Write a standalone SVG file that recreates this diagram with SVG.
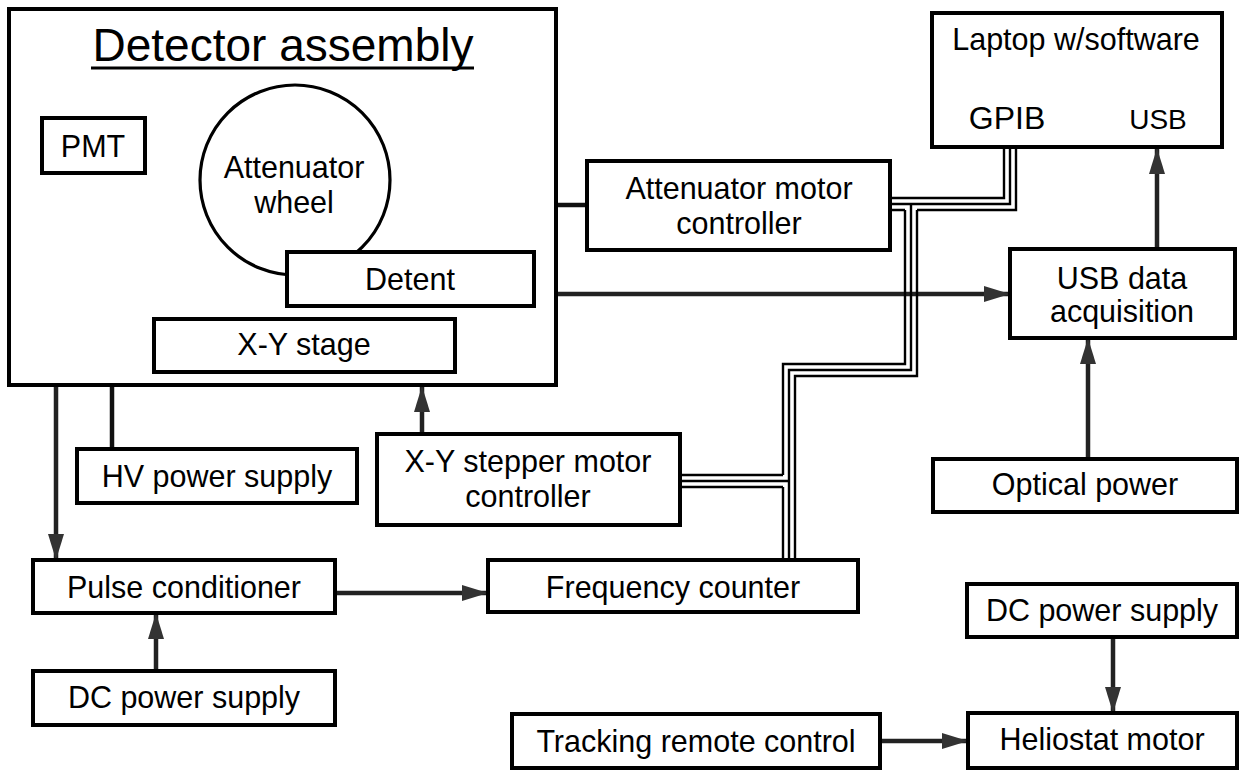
<svg xmlns="http://www.w3.org/2000/svg" width="1243" height="771" viewBox="0 0 1243 771">
<style>
.box{fill:#fff;stroke:#000;stroke-width:4}
.t{font-family:"Liberation Sans",Arial,sans-serif;font-size:30.5px;fill:#000;text-anchor:middle}
.ln{fill:none;stroke:#111;stroke-width:4.5}
.ar{fill:none;stroke:#222;stroke-width:4.5;marker-end:url(#ah)}
.bus{fill:none;stroke:#000;stroke-width:2.4;stroke-linejoin:miter}
</style>
<defs>
<marker id="ah" markerUnits="userSpaceOnUse" markerWidth="27" markerHeight="17" refX="26" refY="8.5" orient="auto">
<path d="M0,0.5 L26,8.5 L0,16.5 Z" fill="#333"/>
</marker>
</defs>
<rect width="1243" height="771" fill="#fff"/>
<g id="connectors">
<line class="ln" x1="557" y1="205" x2="587" y2="205"/>
<line class="ln" x1="112" y1="385" x2="112" y2="449"/>
<line class="ar" x1="557" y1="294" x2="1010" y2="294"/>
<line class="ar" x1="1157" y1="249" x2="1157" y2="148"/>
<line class="ar" x1="1088" y1="459" x2="1088" y2="338"/>
<line class="ar" x1="56" y1="385" x2="56" y2="560"/>
<line class="ar" x1="422" y1="434" x2="422" y2="386"/>
<line class="ar" x1="335" y1="593" x2="488" y2="593"/>
<line class="ar" x1="156" y1="671" x2="156" y2="613"/>
<line class="ar" x1="1113" y1="637" x2="1113" y2="713"/>
<line class="ar" x1="880" y1="741" x2="968" y2="741"/>
<g id="gpib-bus">
<path class="bus" d="M890,198 H1004 V147"/>
<path class="bus" d="M890,204 H1010 V147"/>
<path class="bus" d="M890,210 H905 M917,210 H1016 V147"/>
<path class="bus" d="M905,210 V364 H783 V475 M783,487 V560"/>
<path class="bus" d="M911,204 V370 H789 V560"/>
<path class="bus" d="M917,210 V376 H795 V560"/>
<path class="bus" d="M680,475 H783"/>
<path class="bus" d="M680,481 H789"/>
<path class="bus" d="M680,487 H783"/>
</g>
</g>
<g id="detector-assembly">
<rect class="box" x="9" y="9" width="547" height="376"/>
<text x="283" y="61" style="font-family:'Liberation Sans',Arial,sans-serif;font-size:46px;text-anchor:middle">Detector assembly</text>
<line x1="91" y1="68" x2="474" y2="68" stroke="#000" stroke-width="3"/>
</g>
<g id="pmt">
<rect class="box" x="42" y="118" width="103" height="55"/>
<text class="t" x="93" y="157">PMT</text>
</g>
<g id="attenuator-wheel">
<circle cx="295" cy="180" r="95" fill="none" stroke="#000" stroke-width="3.2"/>
<text class="t" x="294" y="178">Attenuator</text>
<text class="t" x="294" y="213">wheel</text>
</g>
<g id="detent">
<rect class="box" x="287" y="252" width="247" height="54"/>
<text class="t" x="410" y="290">Detent</text>
</g>
<g id="xy-stage">
<rect class="box" x="154" y="319" width="301" height="53"/>
<text class="t" x="304" y="355">X-Y stage</text>
</g>
<g id="attenuator-controller">
<rect class="box" x="587" y="161" width="303" height="89"/>
<text class="t" x="739" y="199">Attenuator motor</text>
<text class="t" x="739" y="234">controller</text>
</g>
<g id="laptop">
<rect class="box" x="932" y="13" width="290" height="134"/>
<text class="t" x="1076" y="50">Laptop w/software</text>
<text class="t" x="1007" y="129" style="font-size:32px">GPIB</text>
<text class="t" x="1158" y="129" style="font-size:28px">USB</text>
</g>
<g id="usb-daq">
<rect class="box" x="1010" y="249" width="225" height="89"/>
<text class="t" x="1122" y="289">USB data</text>
<text class="t" x="1122" y="322">acquisition</text>
</g>
<g id="optical-power">
<rect class="box" x="933" y="459" width="304" height="53"/>
<text class="t" x="1085" y="495">Optical power</text>
</g>
<g id="hv-power">
<rect class="box" x="77" y="449" width="280" height="54"/>
<text class="t" x="217" y="487">HV power supply</text>
</g>
<g id="xy-stepper">
<rect class="box" x="377" y="434" width="303" height="91"/>
<text class="t" x="528" y="472">X-Y stepper motor</text>
<text class="t" x="528" y="507">controller</text>
</g>
<g id="pulse-conditioner">
<rect class="box" x="33" y="560" width="302" height="53"/>
<text class="t" x="184" y="598">Pulse conditioner</text>
</g>
<g id="frequency-counter">
<rect class="box" x="488" y="560" width="370" height="52"/>
<text class="t" x="673" y="598">Frequency counter</text>
</g>
<g id="dc-power-left">
<rect class="box" x="33" y="671" width="302" height="54"/>
<text class="t" x="184" y="708">DC power supply</text>
</g>
<g id="dc-power-right">
<rect class="box" x="967" y="584" width="270" height="53"/>
<text class="t" x="1102" y="621">DC power supply</text>
</g>
<g id="tracking-remote">
<rect class="box" x="512" y="714" width="368" height="54"/>
<text class="t" x="696" y="752">Tracking remote control</text>
</g>
<g id="heliostat-motor">
<rect class="box" x="968" y="713" width="269" height="55"/>
<text class="t" x="1102" y="750">Heliostat motor</text>
</g>
</svg>
